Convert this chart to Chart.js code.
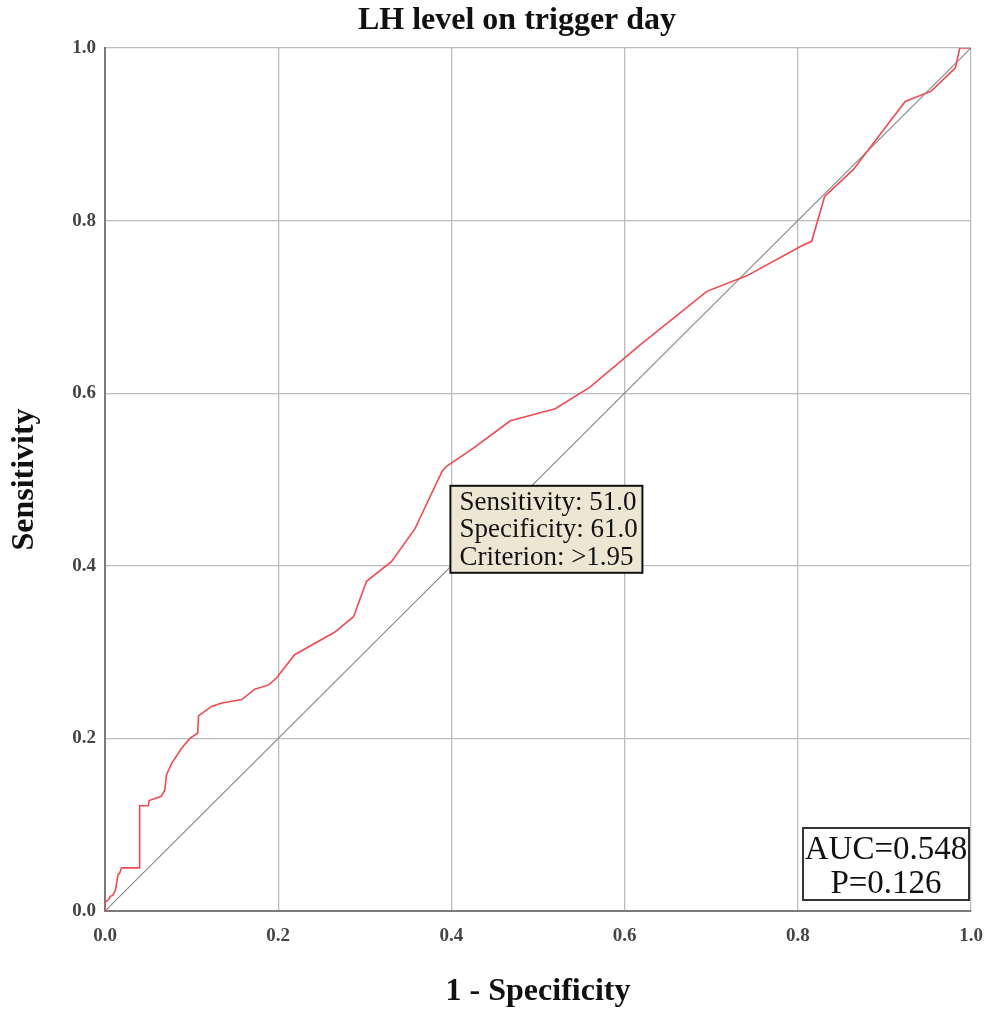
<!DOCTYPE html>
<html>
<head>
<meta charset="utf-8">
<script src="https://cdn.jsdelivr.net/npm/chart.js@4.4.1/dist/chart.umd.min.js"></script>
<style>
  html, body { margin: 0; padding: 0; background: #fff; }
  canvas { display: block; }
</style>
</head>
<body>
<canvas id="rocChart" width="998" height="1017"></canvas>
<script>
// Data
var fpr = [0, 0, 0.004, 0.006, 0.009, 0.012, 0.015, 0.017, 0.019, 0.040, 0.040, 0.050, 0.051,
  0.065, 0.069, 0.071, 0.077, 0.088, 0.098, 0.107, 0.108, 0.123, 0.135, 0.158, 0.173, 0.189,
  0.198, 0.219, 0.265, 0.287, 0.302, 0.331, 0.358, 0.389, 0.394, 0.425, 0.468, 0.520, 0.560,
  0.618, 0.695, 0.741, 0.803, 0.816, 0.831, 0.864, 0.924, 0.954, 0.982, 0.987, 1.0];
var tpr = [0, 0.010, 0.013, 0.017, 0.018, 0.024, 0.042, 0.044, 0.050, 0.050, 0.122, 0.122, 0.128,
  0.133, 0.140, 0.158, 0.171, 0.188, 0.200, 0.206, 0.226, 0.237, 0.241, 0.245, 0.257, 0.262,
  0.270, 0.297, 0.323, 0.341, 0.382, 0.405, 0.443, 0.509, 0.515, 0.536, 0.568, 0.582, 0.607,
  0.656, 0.718, 0.736, 0.770, 0.776, 0.828, 0.859, 0.938, 0.950, 0.977, 1.0, 1.0];
var refX = [0, 1];
var refY = [0, 1];
var tickValues = [0, 0.2, 0.4, 0.6, 0.8, 1.0];

var chartTitle = 'LH level on trigger day';
var cutoffText = ['Sensitivity: 51.0', 'Specificity: 61.0', 'Criterion: >1.95'];
var aucText = ['AUC=0.548', 'P=0.126'];

var serif = '"Liberation Serif", "DejaVu Serif", serif';

function toPoints(xs, ys) {
  return xs.map(function (x, i) { return { x: x, y: ys[i] }; });
}

// title + text boxes
var boxPlugin = {
  id: 'boxes',
  afterDraw: function (chart) {
    var ctx = chart.ctx;
    var xs = chart.scales.x, ys = chart.scales.y;
    ctx.save();

    ctx.fillStyle = '#111';
    ctx.font = 'bold 32px ' + serif;
    ctx.textAlign = 'center';
    ctx.textBaseline = 'middle';
    ctx.fillText(chartTitle, 517, 21);

    // cutoff box, lower left corner sits on (0.4, 0.4)
    var bx = xs.getPixelForValue(0.4) - 1;
    var by = ys.getPixelForValue(0.4) + 7;
    var bw = 192, bh = 87;
    ctx.fillStyle = '#ece6d3';
    ctx.fillRect(bx, by - bh, bw, bh);
    ctx.save();
    ctx.beginPath();
    ctx.rect(bx, by - bh, bw, bh);
    ctx.clip();
    ctx.fillStyle = '#111';
    ctx.font = '27px ' + serif;
    ctx.textAlign = 'left';
    ctx.textBaseline = 'alphabetic';
    cutoffText.forEach(function (t, i) {
      ctx.fillText(t, bx + 9, by - bh + 24 + i * 27.5);
    });
    ctx.restore();
    ctx.strokeStyle = '#111';
    ctx.lineWidth = 2;
    ctx.strokeRect(bx, by - bh, bw, bh);

    // AUC box in the lower right corner
    var ax = 803, ay = 828, aw = 166, ah = 72;
    ctx.fillStyle = '#fff';
    ctx.fillRect(ax, ay, aw, ah);
    ctx.strokeStyle = '#333';
    ctx.lineWidth = 2;
    ctx.strokeRect(ax, ay, aw, ah);
    ctx.fillStyle = '#111';
    ctx.font = '33px ' + serif;
    ctx.textAlign = 'center';
    ctx.textBaseline = 'alphabetic';
    ctx.fillText(aucText[0], ax + aw / 2, ay + 31);
    ctx.fillText(aucText[1], ax + aw / 2, ay + 65);
    ctx.restore();
  }
};

var tickFont = { family: serif, size: 19, weight: 'bold' };
var titleFont = { family: serif, size: 32, weight: 'bold' };

var ctx = document.getElementById('rocChart').getContext('2d');
var rocChart = new Chart(ctx, {
  type: 'scatter',
  data: {
    datasets: [
      {
        label: 'Reference',
        data: toPoints(refX, refY),
        showLine: true,
        borderColor: '#8a8a8a',
        borderWidth: 1.2,
        pointRadius: 0,
        order: 2
      },
      {
        label: 'LH',
        data: toPoints(fpr, tpr),
        showLine: true,
        borderColor: 'rgb(236, 76, 82)',
        borderWidth: 1.6,
        pointRadius: 0,
        tension: 0,
        order: 1
      }
    ]
  },
  options: {
    responsive: false,
    animation: false,
    layout: { padding: { top: 48, right: 27, bottom: 0, left: 0 } },
    plugins: {
      legend: { display: false },
      tooltip: { enabled: false },
      title: { display: false }
    },
    scales: {
      x: {
        type: 'linear',
        min: 0,
        max: 1,
        afterBuildTicks: function (scale) {
          scale.ticks = tickValues.map(function (v) { return { value: v }; });
        },
        afterFit: function (scale) { scale.height = 106; },
        grid: { color: '#bdbdbd', lineWidth: 1.3, drawTicks: false },
        border: { color: '#7a7a7a', width: 2 },
        ticks: {
          color: '#444',
          font: tickFont,
          padding: 14,
          maxRotation: 0,
          callback: function (v) { return Number(v).toFixed(1); }
        },
        title: {
          display: true,
          text: '1 - Specificity',
          color: '#111',
          font: titleFont,
          padding: { top: 0, bottom: 6 }
        }
      },
      y: {
        type: 'linear',
        min: 0,
        max: 1,
        afterBuildTicks: function (scale) {
          scale.ticks = tickValues.map(function (v) { return { value: v }; });
        },
        afterFit: function (scale) { scale.width = 105; },
        grid: { color: '#bdbdbd', lineWidth: 1.3, drawTicks: false },
        border: { color: '#7a7a7a', width: 2 },
        ticks: {
          color: '#444',
          font: tickFont,
          padding: 9,
          callback: function (v) { return Number(v).toFixed(1); }
        },
        title: {
          display: true,
          text: 'Sensitivity',
          color: '#111',
          font: titleFont,
          padding: { top: 6, bottom: 0 }
        }
      }
    }
  },
  plugins: [boxPlugin]
});
</script>
</body>
</html>
